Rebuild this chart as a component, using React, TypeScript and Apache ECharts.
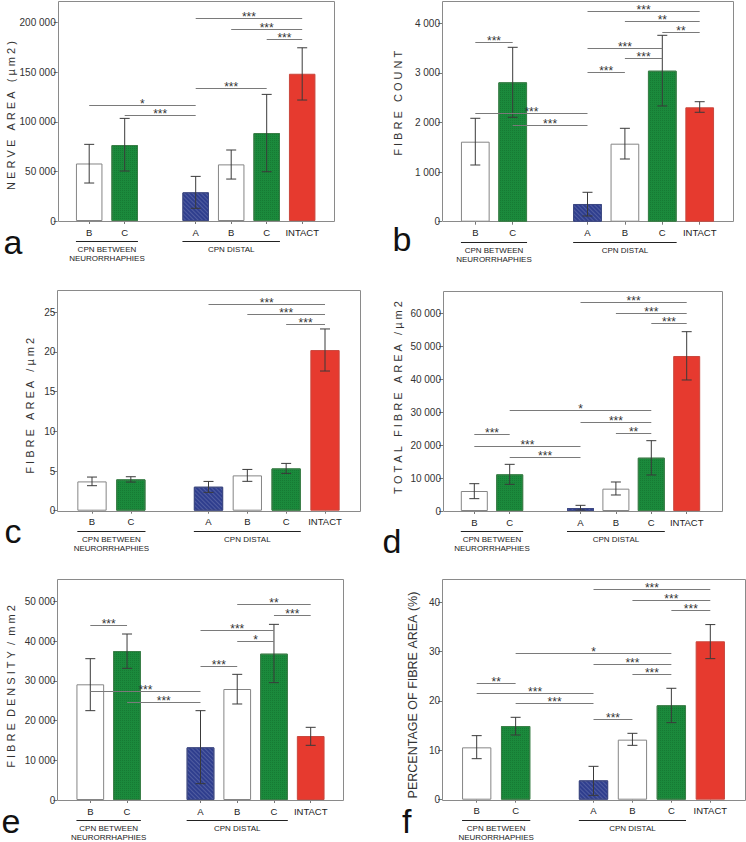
import React, { useEffect, useRef } from 'react';
import * as echarts from 'echarts';

const categories = ['B', 'C', '', 'A', 'B', 'C', 'INTACT'];

// a: nerve area (µm²)
const nerveAreaTicks = [0, 50000, 100000, 150000, 200000];
const nerveAreaMean = [58000, 76600, null, 28900, 57100, 88700, 148500];
const nerveAreaLow = [38300, 50400, null, 12800, 42300, 49700, 122000];
const nerveAreaHigh = [77300, 103500, null, 45000, 71600, 127700, 174700];
const nerveAreaSig = [[0, 3, 116600, '*'], [1, 3, 106500, '***'], [3, 5, 134000, '***'], [3, 6, 204600, '***'], [4, 6, 193800, '***'], [5, 6, 183100, '***']];

// b: fibre count
const fibreCountTicks = [0, 1000, 2000, 3000, 4000];
const fibreCountMean = [1613, 2810, null, 357, 1573, 3044, 2306];
const fibreCountLow = [1143, 2105, null, 115, 1264, 2333, 2206];
const fibreCountHigh = [2085, 3516, null, 593, 1883, 3758, 2419];
const fibreCountSig = [[0, 1, 3617, '***'], [0, 3, 2192, '***'], [1, 3, 1944, '***'], [3, 4, 3024, '***'], [3, 5, 3508, '***'], [4, 5, 3294, '***'], [3, 6, 4248, '***'], [4, 6, 4040, '**'], [5, 6, 3819, '**']];

// c: fibre area (µm²)
const fibreAreaTicks = [0, 5, 10, 15, 20, 25];
const fibreAreaMean = [3.69, 3.95, null, 3.02, 4.45, 5.33, 20.24];
const fibreAreaLow = [3.15, 3.61, null, 2.31, 3.7, 4.7, 17.6];
const fibreAreaHigh = [4.24, 4.28, null, 3.69, 5.2, 5.96, 22.9];
const fibreAreaSig = [[3, 6, 26.1, '***'], [4, 6, 24.8, '***'], [5, 6, 23.5, '***']];

// d: total fibre area (µm²)
const totalAreaTicks = [0, 10000, 20000, 30000, 40000, 50000, 60000];
const totalAreaMean = [6060, 11110, null, 909, 6770, 16160, 46970];
const totalAreaLow = [3740, 8080, null, 300, 4850, 10910, 39700];
const totalAreaHigh = [8280, 14140, null, 1717, 8790, 21310, 54340];
const totalAreaSig = [[0, 1, 23240, '***'], [0, 3, 19800, '***'], [1, 3, 16360, '***'], [1, 5, 30700, '*'], [3, 5, 26870, '***'], [4, 5, 23540, '**'], [3, 6, 63330, '***'], [4, 6, 60100, '***'], [5, 6, 56870, '***']];

// e: fibre density (/mm²)
const densityTicks = [0, 10000, 20000, 30000, 40000, 50000];
const densityMean = [29110, 37490, null, 13250, 27930, 36820, 16100];
const densityLow = [22480, 33130, null, 4110, 24160, 29530, 13760];
const densityHigh = [35560, 41770, null, 22480, 31620, 44200, 18290];
const densitySig = [[0, 1, 44040, '***'], [0, 3, 27430, '***'], [1, 3, 24580, '***'], [3, 4, 33650, '***'], [3, 5, 42700, '***'], [4, 5, 40090, '*'], [4, 6, 49250, '**'], [5, 6, 46550, '***']];

// f: percentage of fibre area
const percentTicks = [0, 10, 20, 30, 40];
const percentMean = [10.59, 14.91, null, 3.91, 12.15, 19.1, 32.05];
const percentLow = [8.3, 13.09, null, 0.88, 11.0, 15.59, 28.54];
const percentHigh = [12.96, 16.67, null, 6.75, 13.43, 22.54, 35.43];
const percentSig = [[0, 1, 23.56, '**'], [0, 3, 21.54, '***'], [1, 3, 19.51, '***'], [1, 5, 29.64, '*'], [3, 5, 27.53, '***'], [4, 5, 25.38, '***'], [3, 4, 16.34, '***'], [3, 6, 42.65, '***'], [4, 6, 40.49, '***'], [5, 6, 38.34, '***']];

const panelLetters = ['a', 'b', 'c', 'd', 'e', 'f'];
const yTitles = [
  'N E R V E   A R E A   ( µ m 2 )',
  'F I B R E   C O U N T',
  'F I B R E   A R E A   / µ m 2',
  'T O T A L   F I B R E   A R E A   / µ m 2',
  'F I B R E  D E N S I T Y  /  m m 2',
  'PERCENTAGE OF FIBRE AREA (%)',
];
const groupLeft = ['CPN BETWEEN', 'NEURORRHAPHIES'];
const groupRight = 'CPN DISTAL';

const DATA = [
  { ticks: nerveAreaTicks, mean: nerveAreaMean, low: nerveAreaLow, high: nerveAreaHigh, sig: nerveAreaSig },
  { ticks: fibreCountTicks, mean: fibreCountMean, low: fibreCountLow, high: fibreCountHigh, sig: fibreCountSig },
  { ticks: fibreAreaTicks, mean: fibreAreaMean, low: fibreAreaLow, high: fibreAreaHigh, sig: fibreAreaSig },
  { ticks: totalAreaTicks, mean: totalAreaMean, low: totalAreaLow, high: totalAreaHigh, sig: totalAreaSig },
  { ticks: densityTicks, mean: densityMean, low: densityLow, high: densityHigh, sig: densitySig },
  { ticks: percentTicks, mean: percentMean, low: percentLow, high: percentHigh, sig: percentSig },
];

// ---- layout / style (positions in px) ----
const LAYOUT = [
  { frame: [57.7, 0.7, 333.3, 221], c0: 89.2, c6: 302.2, topTick: 22.7, bw: 26.5, title: [10.5, 115.5], titleSize: 11, letter: [3.5, 253.3] },
  { frame: [442, 1.3, 732.5, 221.7], c0: 475.3, c6: 699.7, topTick: 23.3, bw: 28.7, title: [398.3, 103.3], titleSize: 11, letter: [392.5, 250] },
  { frame: [57.3, 290, 360.7, 510.7], c0: 92, c6: 325, topTick: 312.3, bw: 29.3, title: [30, 405.8], titleSize: 11, letter: [4.5, 541.7] },
  { frame: [443, 290.7, 722, 511], c0: 474.3, c6: 686.7, topTick: 313, bw: 27, title: [398, 397.5], titleSize: 11, letter: [382.5, 551.7] },
  { frame: [57.3, 579.3, 343.3, 800], c0: 90.3, c6: 310.7, topTick: 601.3, bw: 27.7, title: [10.5, 686.5], titleSize: 11, letter: [1.5, 831.5] },
  { frame: [442, 579, 745, 799.7], c0: 476.7, c6: 710.3, topTick: 602, bw: 29.3, title: [413, 695], titleSize: 12.5, letter: [402, 831.7] },
];

const FONT = '"Liberation Sans", Arial, Helvetica, sans-serif';
const FILL = ['#ffffff', '#1b8a3c', '#ffffff', '#2f3e8e', '#ffffff', '#1b8a3c', '#e63a2f'];
const BORDER = ['#858585', '#3a7f48', '#858585', '#3d4882', '#858585', '#3a7f48', '#c9473d'];
const GREEN_DECAL = { symbol: 'rect', symbolSize: 1, dashArrayX: [1, 1], dashArrayY: [1, 1], color: 'rgba(0,50,10,0.18)' };
const BLUE_DECAL = { symbol: 'rect', symbolSize: 1, dashArrayX: [1, 0], dashArrayY: [1, 2], rotation: Math.PI / 4, color: 'rgba(255,255,255,0.16)' };
const DECAL = [null, GREEN_DECAL, null, BLUE_DECAL, null, GREEN_DECAL, null];

const fmt = (v: number) => String(v).replace(/\B(?=(\d{3})+(?!\d))/g, ' ');
const nb = (s: string) => s.replace(/ /g, '\u00A0');

function buildOption() {
  const grid: any[] = [];
  const xAxis: any[] = [];
  const yAxis: any[] = [];
  const series: any[] = [];
  const graphic: any[] = [];

  DATA.forEach((d, i) => {
    const L = LAYOUT[i];
    const [fl, ft, fr, fb] = L.frame;
    const sp = (L.c6 - L.c0) / 6;
    const gl = L.c0 - sp / 2;
    grid.push({ left: gl, top: L.topTick, width: sp * 7, height: fb - L.topTick, containLabel: false });
    xAxis.push({
      gridIndex: i,
      type: 'category',
      data: categories,
      axisLine: { show: false },
      axisTick: { show: true, alignWithLabel: true, length: 3, interval: (_idx: number, v: string) => v !== '', lineStyle: { color: '#777' } },
      axisLabel: { interval: 0, fontSize: 9.5, color: '#222', margin: 6, fontFamily: FONT },
      splitLine: { show: false },
    });
    const t = d.ticks;
    yAxis.push({
      gridIndex: i,
      type: 'value',
      min: t[0],
      max: t[t.length - 1],
      interval: t[1] - t[0],
      offset: gl - fl,
      axisLine: { show: false },
      axisTick: { show: true, length: 4, lineStyle: { color: '#777' } },
      axisLabel: { fontSize: 10, color: '#333', margin: 2, fontFamily: FONT, formatter: (v: number) => fmt(v) },
      splitLine: { show: false },
    });
    series.push({
      type: 'bar',
      xAxisIndex: i,
      yAxisIndex: i,
      barWidth: L.bw,
      data: d.mean.map((v, j) =>
        v == null ? null : {
          value: v,
          itemStyle: { color: FILL[j], borderColor: BORDER[j], borderWidth: 1, decal: DECAL[j] || undefined },
        }
      ),
    });
    const errData: number[][] = [];
    d.mean.forEach((v, j) => { if (v != null) errData.push([j, d.low[j] as number, d.high[j] as number]); });
    series.push({
      type: 'custom',
      xAxisIndex: i,
      yAxisIndex: i,
      encode: { x: 0, y: [1, 2] },
      data: errData,
      z: 5,
      renderItem: (_p: any, api: any) => {
        const x = api.value(0);
        const a = api.coord([x, api.value(1)]);
        const b = api.coord([x, api.value(2)]);
        const w = 5;
        const st = { stroke: '#3a3a3a', lineWidth: 1 };
        return {
          type: 'group',
          children: [
            { type: 'line', shape: { x1: a[0], y1: a[1], x2: b[0], y2: b[1] }, style: st },
            { type: 'line', shape: { x1: a[0] - w, y1: a[1], x2: a[0] + w, y2: a[1] }, style: st },
            { type: 'line', shape: { x1: b[0] - w, y1: b[1], x2: b[0] + w, y2: b[1] }, style: st },
          ],
        };
      },
    });
    const sig = d.sig;
    series.push({
      type: 'custom',
      xAxisIndex: i,
      yAxisIndex: i,
      encode: { x: [0, 1], y: 2 },
      data: sig.map((s) => [s[0], s[1], s[2]]),
      z: 6,
      renderItem: (p: any, api: any) => {
        const a = api.coord([api.value(0), api.value(2)]);
        const b = api.coord([api.value(1), api.value(2)]);
        const y = Math.round(a[1]) + 0.5;
        return {
          type: 'group',
          children: [
            { type: 'line', shape: { x1: a[0], y1: y, x2: b[0], y2: y }, style: { stroke: '#7a7a7a', lineWidth: 1 } },
            {
              type: 'text',
              x: (a[0] + b[0]) / 2,
              y: y - 1.5,
              style: { text: String(sig[p.dataIndex][3]), fontSize: 12, fontFamily: FONT, fill: '#333', align: 'center', verticalAlign: 'middle' },
            },
          ],
        };
      },
    });

    // frame
    graphic.push({
      type: 'rect',
      shape: { x: Math.round(fl) + 0.5, y: Math.round(ft) + 0.5, width: Math.round(fr - fl), height: Math.round(fb - ft) },
      style: { fill: 'none', stroke: '#8a8a8a', lineWidth: 1 },
      z: 1,
    });
    // y title
    graphic.push({
      type: 'text',
      x: L.title[0],
      y: L.title[1],
      rotation: Math.PI / 2,
      style: { text: nb(yTitles[i]), fontSize: L.titleSize, fontFamily: FONT, fill: '#333', align: 'center', verticalAlign: 'middle' },
    });
    // group underlines & labels
    const cx = (j: number) => gl + sp * (j + 0.5);
    const uy = Math.round(fb + 20) + 0.5;
    const g1a = cx(0) - L.bw / 2, g1b = cx(1) + L.bw / 2;
    const g2a = cx(3) - L.bw / 2, g2b = cx(5) + L.bw / 2;
    graphic.push({ type: 'line', shape: { x1: g1a, y1: uy, x2: g1b, y2: uy }, style: { stroke: '#222', lineWidth: 1 } });
    graphic.push({ type: 'line', shape: { x1: g2a, y1: uy, x2: g2b, y2: uy }, style: { stroke: '#222', lineWidth: 1 } });
    graphic.push({ type: 'text', x: (g1a + g1b) / 2, y: fb + 28.5, style: { text: groupLeft[0], fontSize: 8, fontFamily: FONT, fill: '#222', align: 'center', verticalAlign: 'middle' } });
    graphic.push({ type: 'text', x: (g1a + g1b) / 2, y: fb + 37.5, style: { text: groupLeft[1], fontSize: 8, fontFamily: FONT, fill: '#222', align: 'center', verticalAlign: 'middle' } });
    graphic.push({ type: 'text', x: (g2a + g2b) / 2, y: fb + 28.5, style: { text: groupRight, fontSize: 8, fontFamily: FONT, fill: '#222', align: 'center', verticalAlign: 'middle' } });
    // panel letter
    graphic.push({ type: 'text', x: L.letter[0], y: L.letter[1] + 3, style: { text: panelLetters[i], fontSize: 34, lineHeight: 28, fontFamily: FONT, fill: '#111', align: 'left', verticalAlign: 'bottom' } });
  });

  return {
    animation: false,
    backgroundColor: '#ffffff',
    textStyle: { fontFamily: FONT },
    grid,
    xAxis,
    yAxis,
    series,
    graphic: { elements: graphic },
  };
}

export default function App() {
  const ref = useRef<HTMLDivElement>(null);
  useEffect(() => {
    if (!ref.current) return;
    const chart = echarts.init(ref.current, undefined, { renderer: 'svg' });
    chart.setOption(buildOption() as any);
    return () => chart.dispose();
  }, []);
  return <div ref={ref} style={{ position: 'absolute', left: 0, top: 0, width: 746, height: 842 }} />;
}
